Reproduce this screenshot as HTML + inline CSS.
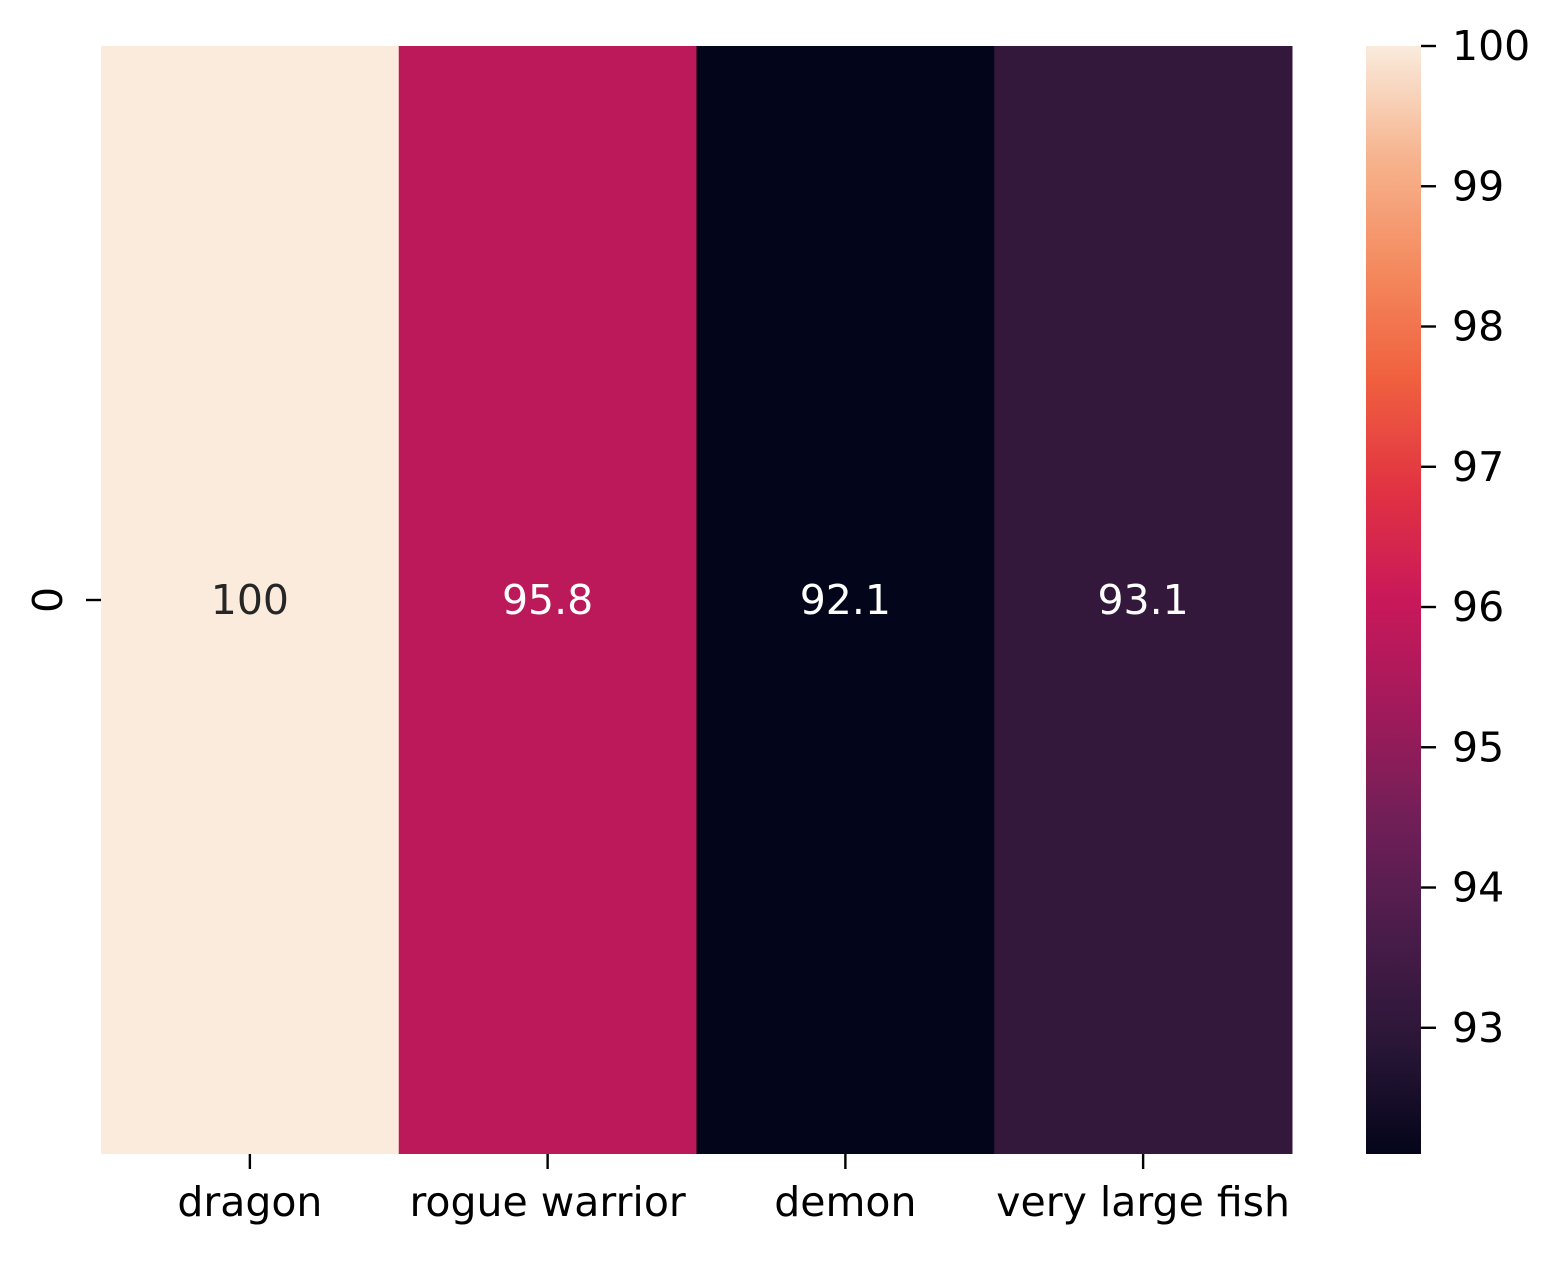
<!DOCTYPE html>
<html><head><meta charset="utf-8"><style>
html,body{margin:0;padding:0;background:#fff;}
svg text{font-family:"DejaVu Sans","Liberation Sans",sans-serif;}
</style></head><body>
<svg id="chart" width="1560" height="1256" xmlns="http://www.w3.org/2000/svg">
<defs><linearGradient id="cbgrad" x1="0" y1="1" x2="0" y2="0"></linearGradient></defs>
<g id="cells"></g>
<g id="xaxis"></g>
<g id="yaxis"></g>
<g id="cbar"></g>
</svg>
<script>
const categories = ["dragon","rogue warrior","demon","very large fish"];
const values = [100, 95.8, 92.1, 93.1];
const labels = ["100","95.8","92.1","93.1"];
const rowLabels = ["0"];
const cbTicks = [93,94,95,96,97,98,99,100];

const NS="http://www.w3.org/2000/svg";
const L=101,R=1292,T=46,B=1154;
const FS=41;
const vmin=Math.min(...values), vmax=Math.max(...values);
const rocket=["#03051A","#2A1637","#4A1C4A","#701F57","#A11A5B","#C9185A","#E13342","#F0603F","#F48A5F","#F6B48E","#FAEBDD"];
function hex(h){return [1,3,5].map(i=>parseInt(h.substr(i,2),16));}
function cmap(t){t=Math.max(0,Math.min(1,t));const p=t*10,i=Math.min(9,Math.floor(p)),f=p-i;
 const a=hex(rocket[i]),b=hex(rocket[i+1]);return "rgb("+a.map((v,k)=>Math.round(v+(b[k]-v)*f)).join(",")+")";}
function xs(i){return L+(R-L)/categories.length*i;}
function ys(v){return B-(v-vmin)/(vmax-vmin)*(B-T);}
function mk(tag,attrs,parent,text){const e=document.createElementNS(NS,tag);for(const k in attrs)e.setAttribute(k,attrs[k]);if(text!==undefined)e.textContent=text;parent.appendChild(e);return e;}
const cells=document.getElementById('cells'),xa=document.getElementById('xaxis'),ya=document.getElementById('yaxis'),cb=document.getElementById('cbar');
const w=(R-L)/categories.length;
values.forEach((v,i)=>{
 const t=(v-vmin)/(vmax-vmin);
 const r=mk('rect',{x:xs(i),y:T,width:w+0.5,height:B-T,fill:cmap(t)},cells);
 
 
 const tx=mk('text',{x:xs(i)+w/2,y:(T+B)/2+14,'text-anchor':'middle','font-size':FS,fill:t>0.6?'#262626':'#ffffff'},cells,labels[i]);
 
 
 mk('line',{x1:xs(i)+w/2,x2:xs(i)+w/2,y1:B,y2:B+15,stroke:'#000','stroke-width':2.4},xa);
 const xl=mk('text',{x:xs(i)+w/2,y:B+62,'text-anchor':'middle','font-size':FS,fill:'#000'},xa,categories[i]);
 
 
});
rowLabels.forEach((r,i)=>{
 const yc=T+(B-T)/rowLabels.length*(i+0.5);
 mk('line',{x1:86,x2:L,y1:yc,y2:yc,stroke:'#000','stroke-width':2.4},ya);
 const yl=mk('text',{x:0,y:0,transform:'translate(62,'+yc+') rotate(-90)','text-anchor':'middle','font-size':FS,fill:'#000'},ya,r);
 
 
});
const g=document.getElementById('cbgrad');
for(let k=0;k<=40;k++){mk('stop',{offset:(k/40),'stop-color':cmap(k/40)},g);}
const cr=mk('rect',{x:1366,y:T,width:55,height:B-T,fill:'url(#cbgrad)'},cb);


cbTicks.forEach(v=>{
 const y=ys(v);
 mk('line',{x1:1421,x2:1436,y1:y,y2:y,stroke:'#000','stroke-width':2.4},cb);
 const tl=mk('text',{x:1452,y:y+14,'font-size':FS,fill:'#000'},cb,String(v));
 
 
});
</script>
</body></html>
